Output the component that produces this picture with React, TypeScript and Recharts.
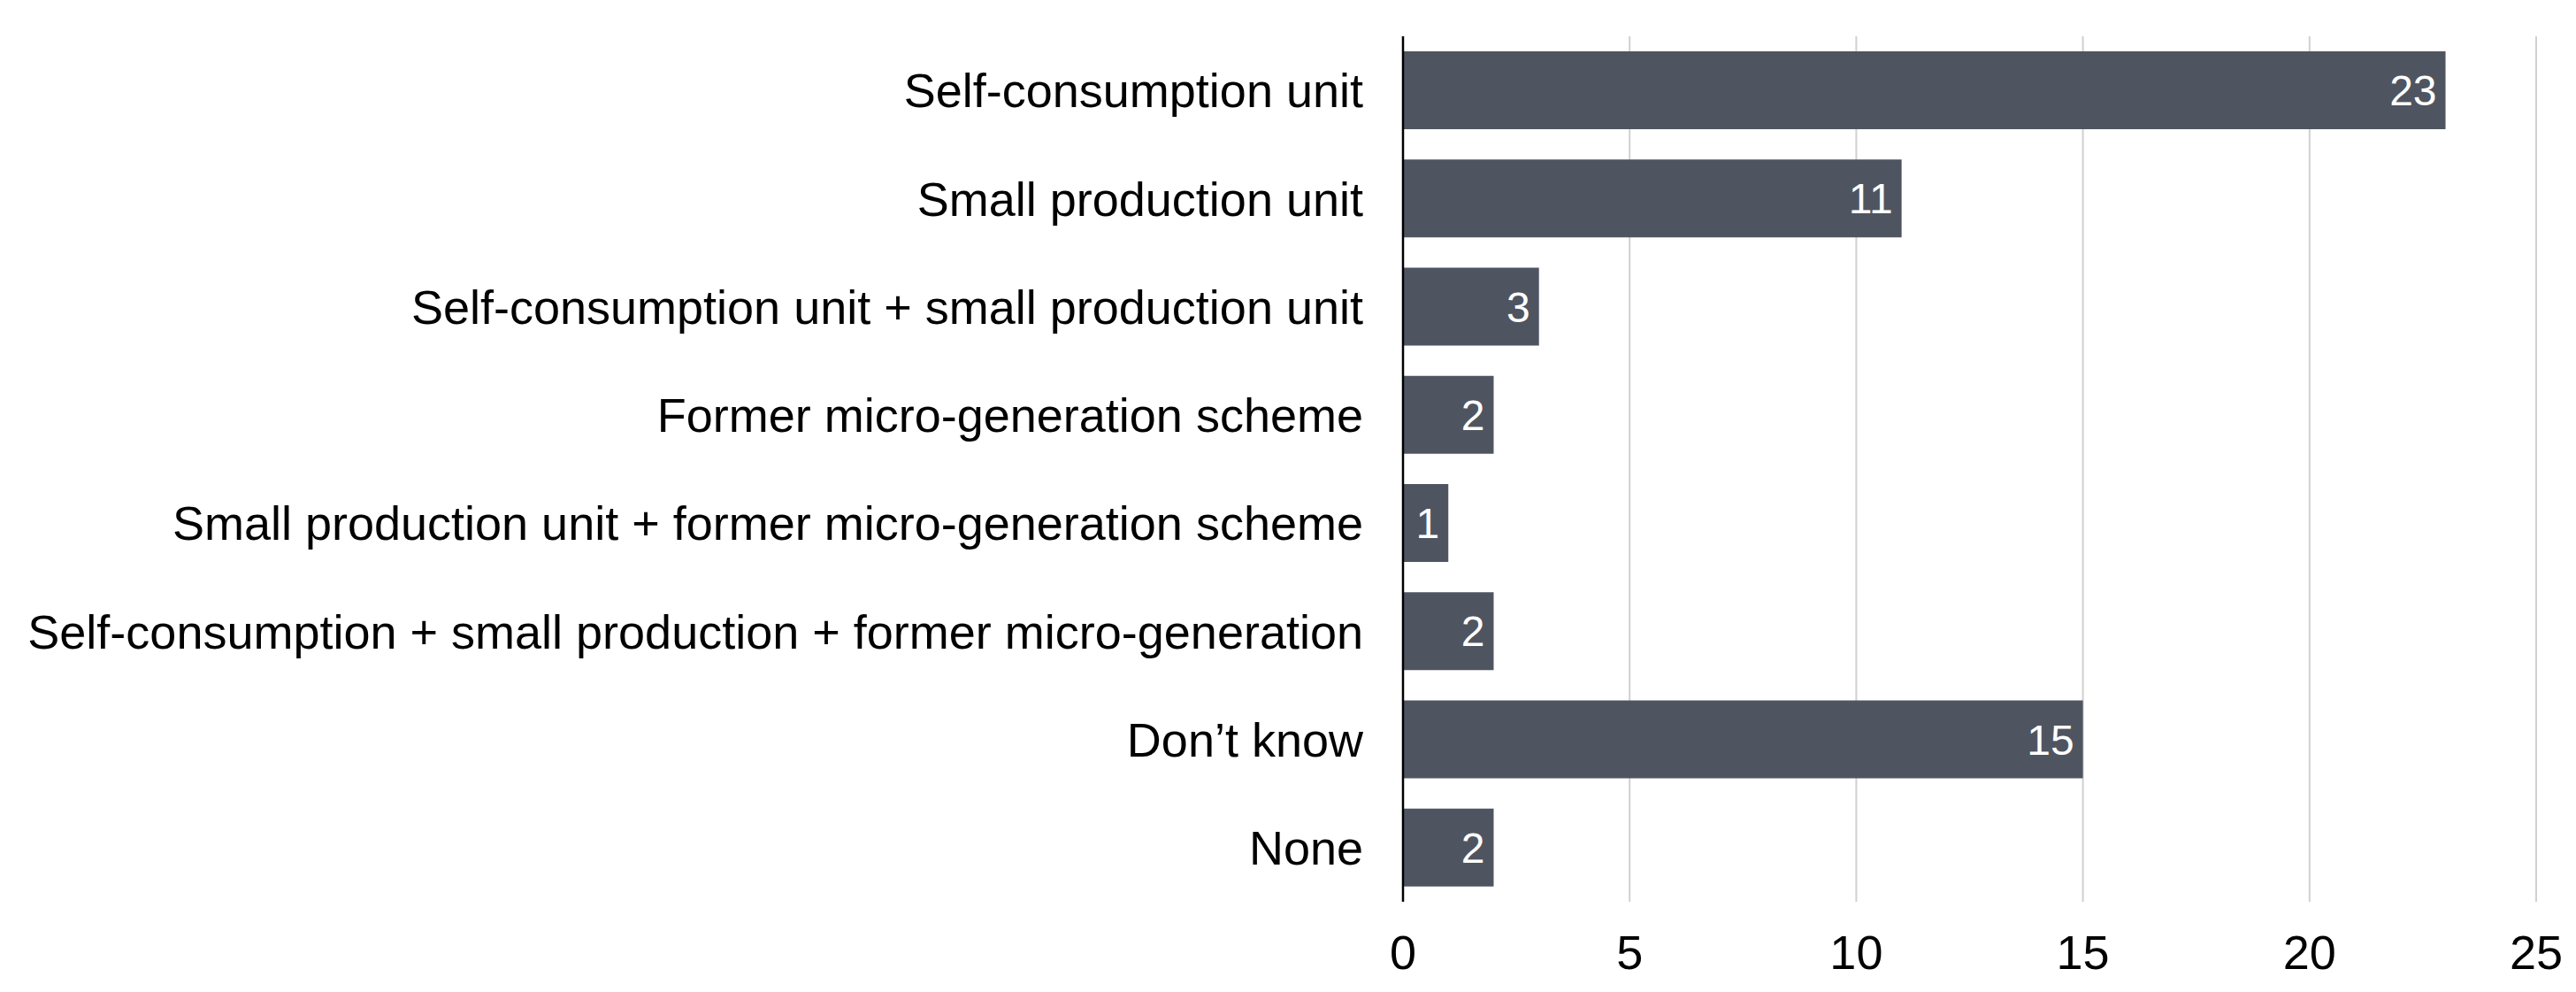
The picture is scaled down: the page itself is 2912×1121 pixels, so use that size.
import React from "react";
import {
  BarChart,
  Bar,
  XAxis,
  YAxis,
  CartesianGrid,
  LabelList,
} from "recharts";

const categories = [
  "Self-consumption unit",
  "Small production unit",
  "Self-consumption unit + small production unit",
  "Former micro-generation scheme",
  "Small production unit + former micro-generation scheme",
  "Self-consumption + small production + former micro-generation",
  "Don\u2019t know",
  "None",
];

const counts = [23, 11, 3, 2, 1, 2, 15, 2];

const xTicks = [0, 5, 10, 15, 20, 25];

const data = categories.map((name, i) => ({ name, value: counts[i] }));

const FONT = '"Liberation Sans", Arial, sans-serif';
const BAR_COLOR = "#4f5560";

export default function App() {
  return (
    <div
      style={{
        position: "absolute",
        left: 0,
        top: 0,
        width: 2912,
        height: 1121,
        background: "#fff",
        fontFamily: FONT,
      }}
    >
      <BarChart
        width={2912}
        height={1121}
        data={data}
        layout="vertical"
        margin={{ top: 41, right: 45, bottom: 22, left: 0 }}
        barCategoryGap="14%"
      >
        <CartesianGrid
          horizontal={false}
          vertical={true}
          stroke="#d0d0d0"
          strokeWidth={2}
        />
        <XAxis
          type="number"
          domain={[0, 25]}
          ticks={xTicks}
          axisLine={false}
          tickLine={false}
          tickSize={0}
          tickMargin={38}
          height={80}
          tick={{ fontSize: 54, fill: "#000", fontFamily: FONT }}
        />
        <YAxis
          type="category"
          dataKey="name"
          width={1586}
          axisLine={{ stroke: "#000", strokeWidth: 2.5 }}
          tickLine={false}
          tickSize={0}
          tickMargin={45}
          interval={0}
          tick={{ fontSize: 54, fill: "#000", fontFamily: FONT }}
        />
        <Bar dataKey="value" fill={BAR_COLOR} isAnimationActive={false}>
          <LabelList
            dataKey="value"
            position="insideRight"
            offset={10}
            fill="#fff"
            fontSize={48}
            fontFamily={FONT}
          />
        </Bar>
      </BarChart>
    </div>
  );
}
